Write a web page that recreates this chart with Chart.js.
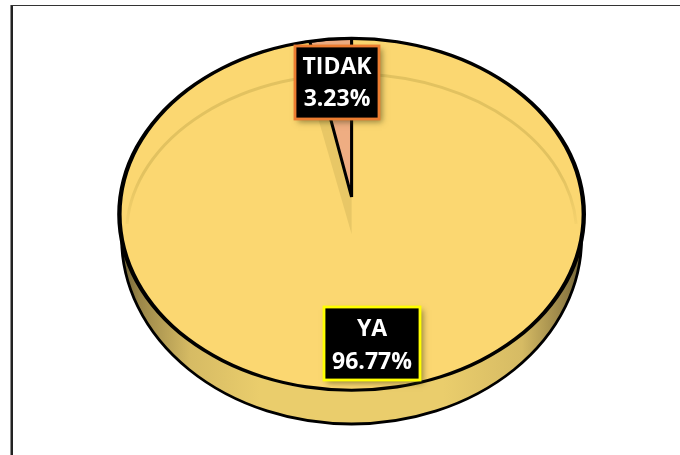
<!DOCTYPE html>
<html>
<head>
<meta charset="utf-8">
<style>html,body{margin:0;padding:0;background:#fff}canvas{display:block}</style>
<script src="https://cdn.jsdelivr.net/npm/chart.js@4"></script>
</head>
<body>
<canvas id="c" width="680" height="455"></canvas>
<script>
const categories = ["YA", "TIDAK"];
const values = [96.77, 3.23];
const valueLabels = ["96.77%", "3.23%"];
const sliceColors = ["#FBD771", "#EFAD82"];
const labelBorders = ["#FFFF00", "#ED7D31"];

const TOP = {x: 351.6, y: 214.3, rx: 232.2, ry: 176};
const WEDGE = {x: 351.6, y: 197, rx: 207, ry: 158.5};
const SHADOW = {x: 351.6, y: 234, rx: 225, ry: 160};
const WALL = {x: 351.6, y: 238, rx: 230, ry: 186};
const BOXES = [
  {x: 324, y: 307, w: 96, h: 73, l1: 329, l2: 362},
  {x: 295, y: 46, w: 84, h: 73, l1: 67, l2: 99}
];

function mapTo(ctx, arc, e) {
  ctx.translate(e.x, e.y);
  ctx.scale(e.rx / arc.outerRadius, e.ry / arc.outerRadius);
  ctx.translate(-arc.x, -arc.y);
}

const pie3d = {
  id: "pie3d",
  beforeDatasetsDraw(chart) {
    const ctx = chart.ctx;
    const [ya, tidak] = chart.getDatasetMeta(0).data;

    // frame
    ctx.save();
    ctx.fillStyle = "#8c8c8c"; ctx.fillRect(10, 5, 1, 450);
    ctx.fillStyle = "#222222"; ctx.fillRect(11, 5, 2, 450);
    ctx.fillStyle = "#333333"; ctx.fillRect(11, 5, 669, 1);
    ctx.restore();

    // side wall
    ctx.save();
    const g = ctx.createLinearGradient(WALL.x - WALL.rx, 0, WALL.x + WALL.rx, 0);
    [[0, "#6f6236"], [0.04, "#9b8749"], [0.15, "#D6BB64"], [0.3, "#EACD6C"],
     [0.7, "#EACD6C"], [0.87, "#D6BB64"], [0.97, "#8f7c44"], [1, "#6f6236"]]
      .forEach(s => g.addColorStop(s[0], s[1]));
    ctx.beginPath();
    ctx.ellipse(WALL.x, WALL.y, WALL.rx, WALL.ry, 0, 0, Math.PI * 2);
    ctx.fillStyle = g; ctx.fill();
    ctx.lineWidth = 2.8; ctx.strokeStyle = "#000"; ctx.stroke();
    ctx.restore();

    // top face underlay, then the YA slice through the library element
    ctx.save();
    ctx.beginPath();
    ctx.ellipse(TOP.x, TOP.y, TOP.rx, TOP.ry, 0, 0, Math.PI * 2);
    ctx.fillStyle = sliceColors[0]; ctx.fill();
    ctx.restore();
    ctx.save(); mapTo(ctx, ya, TOP); ya.draw(ctx); ctx.restore();

    // soft inner shadow: rim and wedge, clipped to the top face
    ctx.save();
    ctx.beginPath();
    ctx.ellipse(TOP.x, TOP.y, TOP.rx, TOP.ry, 0, 0, Math.PI * 2);
    ctx.clip();
    ctx.beginPath();
    ctx.ellipse(SHADOW.x, SHADOW.y, SHADOW.rx, SHADOW.ry, 0, Math.PI * 1.02, Math.PI * 1.98);
    const sg = ctx.createLinearGradient(0, SHADOW.y - 60, 0, SHADOW.y + 6);
    sg.addColorStop(0, "rgba(226,194,96,1)");
    sg.addColorStop(1, "rgba(226,194,96,0)");
    ctx.strokeStyle = sg; ctx.lineWidth = 3; ctx.stroke();
    ctx.save();
    mapTo(ctx, tidak, SHADOW);
    ctx.beginPath();
    ctx.moveTo(tidak.x, tidak.y);
    ctx.arc(tidak.x, tidak.y, tidak.outerRadius, tidak.startAngle, tidak.endAngle);
    ctx.closePath();
    ctx.fillStyle = "#E8C766"; ctx.fill();
    ctx.restore();
    ctx.restore();

    // TIDAK slice through the library element
    ctx.save(); mapTo(ctx, tidak, WEDGE); tidak.draw(ctx); ctx.restore();

    // rim outline
    ctx.save();
    ctx.beginPath();
    ctx.ellipse(TOP.x, TOP.y, 234.4, 177.5, 0, 0, Math.PI * 2);
    ctx.ellipse(TOP.x, TOP.y, 230, 174.4, 0, 0, Math.PI * 2);
    ctx.fillStyle = "#000"; ctx.fill("evenodd");
    ctx.restore();

    // labels
    BOXES.forEach((b, i) => {
      ctx.save();
      ctx.shadowColor = "rgba(60,60,20,0.55)";
      ctx.shadowBlur = 6; ctx.shadowOffsetX = 3; ctx.shadowOffsetY = 3;
      ctx.fillStyle = "#000";
      ctx.fillRect(b.x, b.y, b.w, b.h);
      ctx.shadowColor = "transparent";
      ctx.strokeStyle = labelBorders[i]; ctx.lineWidth = 2.8;
      ctx.strokeRect(b.x, b.y, b.w, b.h);
      ctx.fillStyle = "#fff";
      ctx.font = 'bold 23px "Open Sans", sans-serif';
      ctx.textAlign = "center"; ctx.textBaseline = "middle";
      ctx.fillText(categories[i], b.x + b.w / 2, b.l1);
      ctx.fillText(valueLabels[i], b.x + b.w / 2, b.l2);
      ctx.restore();
    });
    return false;
  }
};

new Chart(document.getElementById("c"), {
  type: "pie",
  data: {
    labels: categories,
    datasets: [{
      data: values,
      backgroundColor: sliceColors,
      borderColor: "#000",
      borderWidth: [0, 2.6]
    }]
  },
  options: {
    responsive: false,
    animation: false,
    layout: {padding: {top: 38, bottom: 64, left: 175, right: 152}},
    plugins: {legend: {display: false}, tooltip: {enabled: false}}
  },
  plugins: [pie3d]
});
</script>
</body>
</html>
